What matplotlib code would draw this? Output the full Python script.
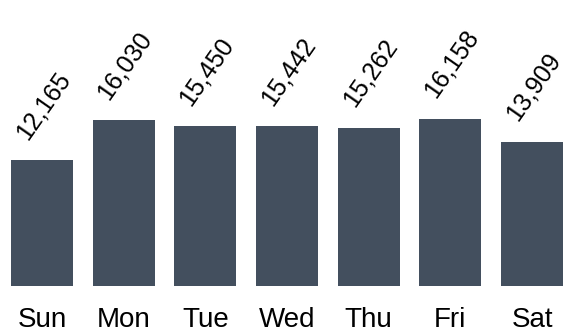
import matplotlib
matplotlib.use("Agg")
import matplotlib.pyplot as plt

days = ["Sun", "Mon", "Tue", "Wed", "Thu", "Fri", "Sat"]
counts = [12165, 16030, 15450, 15442, 15262, 16158, 13909]

plt.rcParams['font.family'] = ['Liberation Sans', 'DejaVu Sans']

fig = plt.figure(figsize=(5.7, 3.33), dpi=100)
ax = fig.add_axes([0, 47/333, 1, 286/333])
x = range(len(days))
bars = ax.bar(x, counts, width=0.76, color='#434f5e')
ax.set_xlim(-0.513, 6.464)
ax.set_ylim(0, 286 * 96.6)
for xi, v in zip(x, counts):
    ax.annotate(f"{v:,}", (xi, v), xytext=(1, 12), textcoords='offset points',
                rotation=55, ha='center', va='bottom', fontsize=18)
ax.set_xticks(list(x))
ax.set_xticklabels(days, fontsize=20)
ax.tick_params(axis='x', length=0, pad=15)
ax.set_yticks([])
for s in ax.spines.values():
    s.set_visible(False)
fig.savefig("out.png", dpi=100)
